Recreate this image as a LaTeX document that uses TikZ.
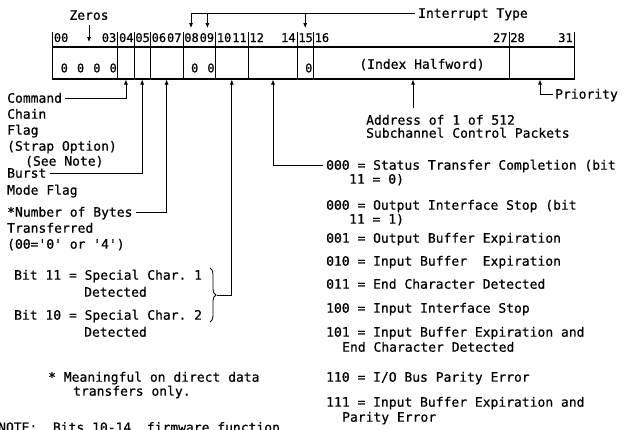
\documentclass[tikz,border=0pt]{standalone}
\usepackage{fontspec}
\setmainfont{DejaVu Sans Mono}[FakeBold=0.6]
\usetikzlibrary{arrows.meta,decorations.pathreplacing}

\tikzset{
  txt/.style={anchor=base west, inner sep=0pt, text height=9.5pt, text depth=0pt,
    font=\fontsize{13}{15}\selectfont},
  bitno/.style={inner sep=0pt, font=\fontsize{12}{14}\selectfont},
  lead/.style={line width=0.7pt, -{Latex[length=5pt,width=4pt]}},
}

\begin{document}
\frenchspacing
\begin{tikzpicture}[x=1pt,y=-1pt]
    \useasboundingbox (0,0) rectangle (629,429);

    % Слово и границы полей
    \draw[line width=1.2pt] (52.5,47) rectangle (574.1,79);
    \foreach \b in {0,4,5,6,8,10,12,15,16,28,32}
        \draw[line width=0.7pt] ({52.5+16.3*\b},32) -- ({52.5+16.3*\b},79);

    % Номера битов
    \foreach \n/\b in {00/0,04/4,05/5,06/6,08/8,10/10,12/12,15/15,16/16,28/28}
        \node[bitno, anchor=base west] (l\n) at ({52.5+16.3*\b+1.2},42) {\n};
    \foreach \n/\b in {03/4,07/8,09/10,11/12,14/15,27/28,31/32}
        \node[bitno, anchor=base east] (r\n) at ({52.5+16.3*\b-1.2},42) {\n};

    % Содержимое полей
    \foreach \b in {0,1,2,3,8,9,15}
        \node[bitno] (z\b) at ({52.5+16.3*(\b+1)-4.5},68) {0};
    \node[txt, anchor=center] (index) at (422,64) {(Index Halfword)};

    % Надписи сверху
    \node[txt, anchor=center] (zeros) at (89,15) {Zeros};
    \coordinate (zt) at (89,42);
    \draw[lead] ([yshift=-5pt]zeros.south) -- (zt);

    \node[txt, anchor=west] (itype) at (418,13) {Interrupt Type};
    \coordinate (i08) at (191,28);
    \coordinate (i09) at (207.4,28);
    \coordinate (i15) at (305.2,28);
    \draw[lead] ([xshift=-3pt]itype.west) -| (i08);
    \draw[lead] (i09 |- itype.west) -- (i09);
    \draw[lead] (i15 |- itype.west) -- (i15);

    % Точки на нижней кромке слова
    \coordinate (b04) at (125.9,79.6);
    \coordinate (b05) at (142.2,79.6);
    \coordinate (b06) at (166.6,79.6);
    \coordinate (b10) at (231.8,79.6);
    \coordinate (b12) at (273,79.6);
    \coordinate (b16) at (413,79.6);
    \coordinate (b28) at (540,79.6);

    % Левая колонка
    \node[txt] (cmd) at (7,102.7) {Command};
    \node[txt] (chain) at (7,118.7) {Chain};
    \node[txt] (flag) at (7,134.7) {Flag};
    \node[txt] (strap) at (7,150.7) {(Strap Option)};
    \node[txt] (seenote) at (25,165.7) {(See Note)};
    \node[txt] (burst) at (7,177.7) {Burst};
    \node[txt] (mode) at (7,194.7) {Mode Flag};
    \node[txt] (bytes) at (7,216.7) {*Number of Bytes};
    \node[txt] (transf) at (7,232.7) {Transferred};
    \node[txt] (oo) at (7,248.7) {(00=\textquotesingle0\textquotesingle{} or \textquotesingle4\textquotesingle)};
    \draw[lead] ([xshift=3pt]cmd.east) -| (b04);
    \draw[lead] ([xshift=3pt]burst.east) -| (b05);
    \draw[lead] ([xshift=3pt]bytes.east) -| (b06);

    \node[txt] (bit11) at (14,279.7) {Bit 11 = Special Char. 1};
    \node[txt] (det11) at (84,296.7) {Detected};
    \node[txt] (bit10) at (14,319.7) {Bit 10 = Special Char. 2};
    \node[txt] (det10) at (84,336.7) {Detected};
    \draw[line width=0.8pt, decorate, decoration={brace, amplitude=6pt}] (210,268) -- (210,322);
    \coordinate (bt) at (217,295);
    \draw[lead] (bt) -| (b10);

    \node[txt] (mean) at (48,381.7) {* Meaningful on direct data};
    \node[txt] (only) at (73,395.7) {transfers only.};
    \node[txt] (note) at (-2,432) {NOTE:~~Bits 10-14, firmware function};

    % Адрес и приоритет
    \node[txt] (addr1) at (366,124.7) {Address of 1 of 512};
    \node[txt] (addr2) at (366,137.7) {Subchannel Control Packets};
    \coordinate (at) at (413,108);
    \draw[lead] (at) -- (b16);
    \node[txt] (prio) at (555,98.7) {Priority};
    \draw[lead] ([xshift=-2pt]prio.west) -| (b28);

    % Типы прерывания
    \node[txt] (s000) at (326,169.7) {000 = Status Transfer Completion (bit};
    \node[txt] (s000b) at (349,183.7) {11 = 0)};
    \draw[lead] ([xshift=-3pt]s000.west) -| (b12);
    \node[txt] (o000) at (326,209.7) {000 = Output Interface Stop (bit};
    \node[txt] (o000b) at (349,223.7) {11 = 1)};
    \node[txt] (t001) at (326,242.7) {001 = Output Buffer Expiration};
    \node[txt] (t010) at (326,265.7) {010 = Input Buffer~~Expiration};
    \node[txt] (t011) at (326,288.7) {011 = End Character Detected};
    \node[txt] (t100) at (326,312.7) {100 = Input Interface Stop};
    \node[txt] (t101) at (326,336.7) {101 = Input Buffer Expiration and};
    \node[txt] (t101b) at (342,351.7) {End Character Detected};
    \node[txt] (t110) at (326,381.7) {110 = I/O Bus Parity Error};
    \node[txt] (t111) at (326,406.7) {111 = Input Buffer Expiration and};
    \node[txt] (t111b) at (342,421.7) {Parity Error};
\end{tikzpicture}
\end{document}
